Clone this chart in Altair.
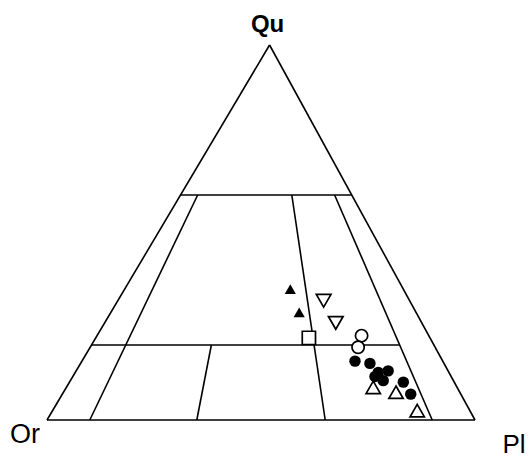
import altair as alt
import pandas as pd

# Horizontal position of the Qu apex, as a fraction of the Or-Pl base
APEX = 0.52

# Field boundaries of the QAP diagram
ratio_lines = [10, 35, 65, 90]   # P/(A+P) in %
ratio_tops = [60, 20, 60, 60]    # Qu level where each ratio line stops
q_levels = [60, 20]              # horizontal Qu lines
q_from = [0, 0]                  # P/(A+P) where each Qu line starts
q_to = [100, 90]                 # P/(A+P) where each Qu line ends

# Samples: Qu and Pl in % (Or = 100 - Qu - Pl)
filled_tri_q = [34.9, 28.7]
filled_tri_p = [38.7, 44.0]
inv_tri_q = [31.8, 25.9]
inv_tri_p = [48.1, 54.0]
square_q = [21.9]
square_p = [49.8]
open_circ_q = [22.5, 19.4]
open_circ_p = [61.8, 62.6]
filled_circ_q = [15.7, 15.1, 12.7, 13.1, 10.5, 11.6, 10.1, 6.9]
filled_circ_p = [63.8, 67.6, 70.8, 72.9, 73.1, 70.6, 78.0, 81.4]
open_tri_q = [8.7, 7.4, 2.5]
open_tri_p = [71.7, 77.7, 85.2]

vertex_labels = ["Qu", "Or", "Pl"]


def to_xy(q, p):
    return p + APEX * q, q


def seg(q1, p1, q2, p2):
    x1, y1 = to_xy(q1, p1)
    x2, y2 = to_xy(q2, p2)
    return {"x": x1, "y": y1, "x2": x2, "y2": y2}


segments = [
    seg(0, 0, 0, 100),
    seg(0, 100, 100, 0),
    seg(100, 0, 0, 0),
]
for r, top in zip(ratio_lines, ratio_tops):
    segments.append(seg(0, r, top, r * (100 - top) / 100))
for q, r0, r1 in zip(q_levels, q_from, q_to):
    segments.append(seg(q, r0 * (100 - q) / 100, q, r1 * (100 - q) / 100))
seg_df = pd.DataFrame(segments)

xs = alt.Scale(domain=[0, 100], nice=False, zero=False)
ys = alt.Scale(domain=[0, 100], nice=False, zero=False)

lines = alt.Chart(seg_df).mark_rule(color="black", strokeWidth=1.6).encode(
    x=alt.X("x:Q", scale=xs, axis=None),
    y=alt.Y("y:Q", scale=ys, axis=None),
    x2="x2:Q",
    y2="y2:Q",
)


def points(qs, ps, shape, filled, size):
    xy = [to_xy(q, p) for q, p in zip(qs, ps)]
    df = pd.DataFrame({"x": [a for a, _ in xy], "y": [b for _, b in xy]})
    kw = dict(shape=shape, size=size, opacity=1)
    if filled:
        kw.update(filled=True, color="black", strokeWidth=0)
    else:
        kw.update(filled=True, fill="white", stroke="black", strokeWidth=1.7)
    return alt.Chart(df).mark_point(**kw).encode(
        x=alt.X("x:Q", scale=xs, axis=None),
        y=alt.Y("y:Q", scale=ys, axis=None),
    )


layers = [
    lines,
    points(filled_tri_q, filled_tri_p, "triangle-up", True, 125),
    points(inv_tri_q, inv_tri_p, "triangle-down", False, 215),
    points(square_q, square_p, "square", False, 175),
    points(open_circ_q, open_circ_p, "circle", False, 150),
    points(filled_circ_q, filled_circ_p, "circle", True, 130),
    points(open_tri_q, open_tri_p, "triangle-up", False, 205),
]

# Vertex labels
qx, qy = to_xy(100, 0)
lab_qu = alt.Chart(pd.DataFrame({"x": [qx], "y": [qy], "t": [vertex_labels[0]]})).mark_text(
    font="Liberation Sans", fontSize=24, fontWeight="bold", dy=-13, dx=-2,
    baseline="alphabetic", align="center",
).encode(x=alt.X("x:Q", scale=xs), y=alt.Y("y:Q", scale=ys), text="t:N")

ox, oy = to_xy(0, 0)
lab_or = alt.Chart(pd.DataFrame({"x": [ox], "y": [oy], "t": [vertex_labels[1]]})).mark_text(
    font="Liberation Sans", fontSize=27, dy=23, dx=-22,
    baseline="alphabetic", align="center",
).encode(x=alt.X("x:Q", scale=xs), y=alt.Y("y:Q", scale=ys), text="t:N")

px_, py_ = to_xy(0, 100)
lab_pl = alt.Chart(pd.DataFrame({"x": [px_], "y": [py_], "t": [vertex_labels[2]]})).mark_text(
    font="Liberation Sans", fontSize=26, dy=33, dx=39,
    baseline="alphabetic", align="center",
).encode(x=alt.X("x:Q", scale=xs), y=alt.Y("y:Q", scale=ys), text="t:N")

chart = alt.layer(*layers, lab_qu, lab_or, lab_pl).properties(
    width=428,
    height=375,
    padding={"left": 47, "top": 45, "right": 55, "bottom": 40},
    autosize=alt.AutoSizeParams(type="none"),
    background="white",
).configure_view(stroke=None)

chart.save("out.html", embed_options={"renderer": "svg", "actions": False})
